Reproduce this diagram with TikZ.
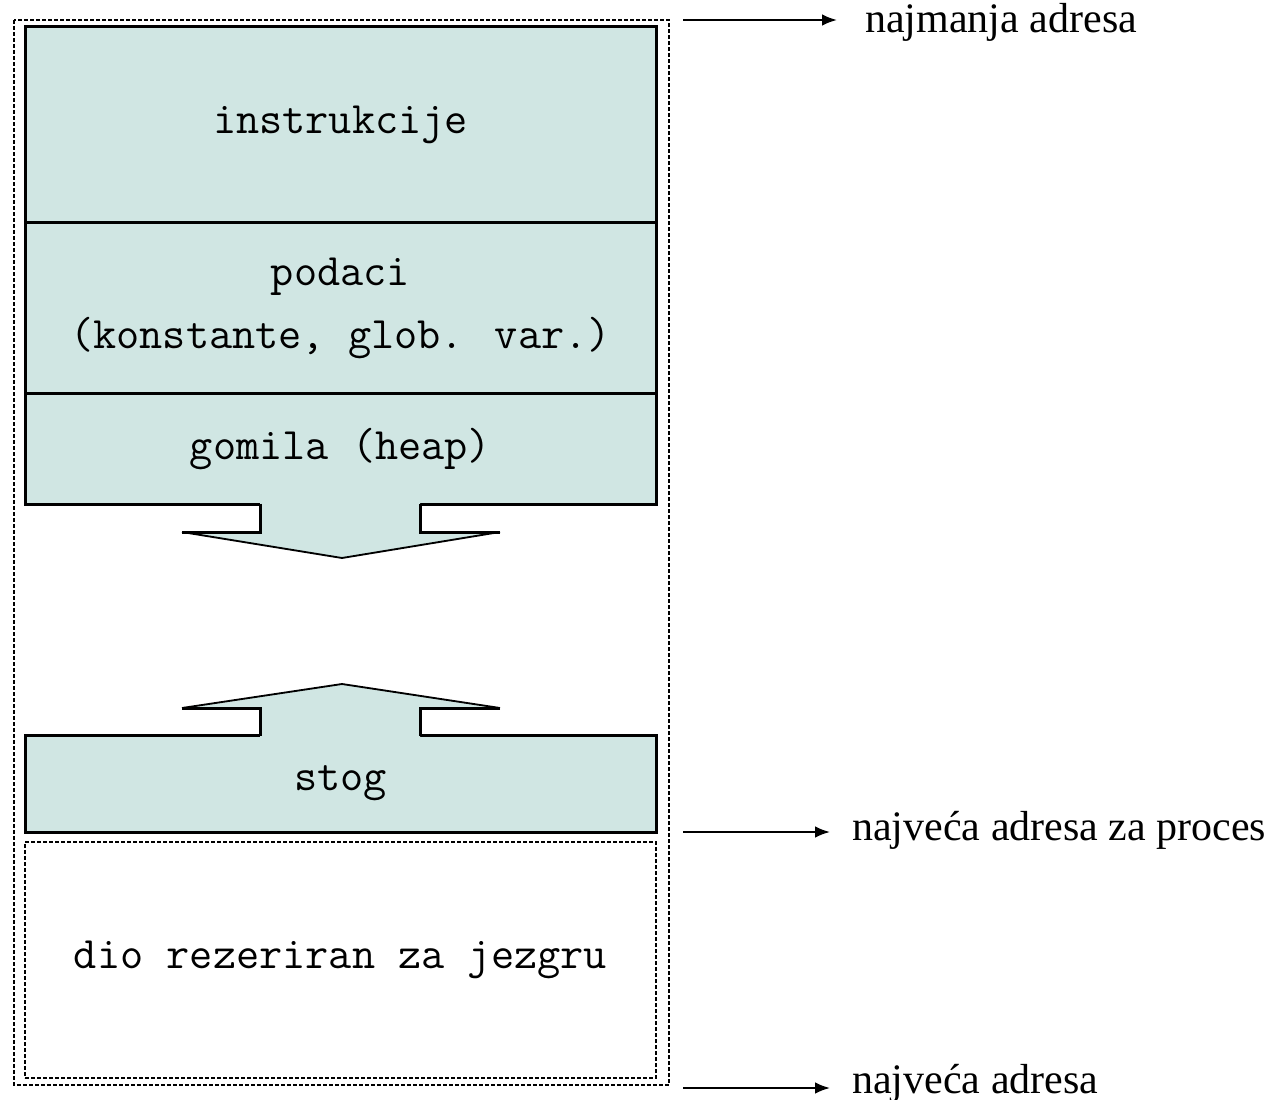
\documentclass[tikz,border=0pt]{standalone}
\usepackage{fontspec}
\setmainfont{Liberation Serif}
\newfontfamily\memfont{Latin Modern Mono}
\usetikzlibrary{positioning,arrows.meta}

\begin{document}
\begin{tikzpicture}[x=0.6pt,y=-0.6pt,
    memfill/.style={fill=r208g230b227},
    membox/.style={draw,line width=1.8pt,memfill,minimum width=378.6pt,
        inner sep=0pt,outer sep=0pt,align=center,
        font=\memfont\fontsize{27}{37.8}\selectfont},
    resbox/.style={draw,line width=1.2pt,dash pattern=on 2.4pt off 1.2pt,
        minimum width=378.6pt,inner sep=0pt,outer sep=0pt,
        font=\memfont\fontsize{27}{37.8}\selectfont},
    dashline/.style={line width=1.2pt,dash pattern=on 2.4pt off 1.2pt},
    boxline/.style={line width=1.8pt},
    headline/.style={line width=1.1pt,line join=round},
    adrlabel/.style={inner sep=0pt,font=\fontsize{25.2}{30}\selectfont},
    adrarrow/.style={line width=1.2pt,-{Latex[length=9pt,width=7pt]}}]

    % Changing color 208 230 227
    \definecolor{r208g230b227}{RGB}{208,230,227}%

    \useasboundingbox (0,0) rectangle (1267,1100);

    % Outer border of the address space
    \draw[dashline] (14,20) rectangle (669,1085);

    % Segments of the process
    \node[membox,minimum height=117.3pt,anchor=north] (instr) at (340.5,27) {instrukcije};
    \node[membox,minimum height=102.9pt,below=0pt of instr] (podaci) {podaci\\(konstante, glob. var.)};
    \node[membox,minimum height=66.6pt,below=0pt of podaci] (gomila) {gomila (heap)};
    \node[membox,minimum height=58.2pt,anchor=north] (stog) at (340.5,735) {stog};

    % Reserved part
    \node[resbox,minimum height=141.6pt,anchor=north] (jezgra) at (340.5,842) {dio rezeriran za jezgru};

    % Heap grows down
    \fill[memfill] (260,500) -- (260,532) -- (182,532) -- (342,558) -- (500,532) -- (420,532) -- (420,500) -- cycle;
    \draw[boxline] (260,503.6) -- (260,532) -- (182,532);
    \draw[boxline] (500,532) -- (420,532) -- (420,503.6);
    \draw[headline] (182,532) -- (342,558) -- (500,532);

    % Stack grows up
    \fill[memfill] (260,740) -- (260,708) -- (182,708) -- (342,684) -- (500,708) -- (420,708) -- (420,740) -- cycle;
    \draw[boxline] (260,736.4) -- (260,708) -- (182,708);
    \draw[boxline] (500,708) -- (420,708) -- (420,736.4);
    \draw[headline] (182,708) -- (342,684) -- (500,708);

    % Marking addresses
    \coordinate (c1) at (683,20);
    \coordinate (c2) at (683,832);
    \coordinate (c3) at (683,1088);
    \node[adrlabel,anchor=west] (l1) at (865,22) {najmanja adresa};
    \node[adrlabel,anchor=west] (l2) at (852,830) {najveća adresa za proces};
    \node[adrlabel,anchor=west] (l3) at (852,1083) {najveća adresa};
    \draw[adrarrow,shorten >=16.8pt] (c1) -- (c1 -| l1.west);
    \draw[adrarrow,shorten >=13.2pt] (c2) -- (c2 -| l2.west);
    \draw[adrarrow,shorten >=13.2pt] (c3) -- (c3 -| l3.west);
\end{tikzpicture}
\end{document}
